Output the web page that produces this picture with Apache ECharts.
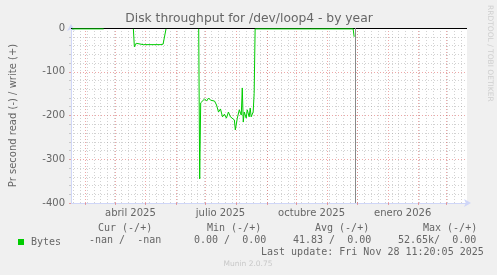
<!DOCTYPE html>
<html><head><meta charset="utf-8">
<script src="https://cdn.jsdelivr.net/npm/echarts@6/dist/echarts.min.js"></script>
<style>html,body{margin:0;padding:0;background:#F0F0F0}#c{width:497px;height:275px}</style>
</head><body><div id="c"></div>
<script>
// ---- data ----
const readDates = [
  '2025-02-16','2025-03-20','2025-04-05',
  '2025-04-19','2025-04-20','2025-04-22','2025-04-24','2025-04-29','2025-05-16','2025-05-19','2025-05-21','2025-05-22','2025-06-05',
  '2025-06-24','2025-06-25','2025-06-26','2025-06-28','2025-06-30','2025-07-02','2025-07-04','2025-07-06','2025-07-08','2025-07-10',
  '2025-07-12','2025-07-14','2025-07-16','2025-07-18','2025-07-20','2025-07-22','2025-07-24','2025-07-26','2025-07-28','2025-07-30',
  '2025-07-31','2025-08-02','2025-08-04','2025-08-06','2025-08-07','2025-08-08','2025-08-09','2025-08-11','2025-08-12','2025-08-14',
  '2025-08-15','2025-08-16','2025-08-18','2025-08-19','2025-08-20',
  '2025-09-15','2025-10-15','2025-11-27','2025-11-28'
];
const readValues = [
  -2,-2,null,
  -2,-43,-35,-37,-38,-38,-37,-34,-2,null,
  -2,-345,-171,-169,-162,-167,-160,-165,-169,-167,
  -176,-192,-185,-203,-197,-206,-192,-203,-199,-210,
  -233,-206,-187,-199,-137,-215,-192,-206,-187,-203,
  -183,-203,-192,-150,-2,
  -2,-2,-2,-20
];
const xStart = '2025-02-15';
const xEnd = '2026-03-22';
const nowDate = '2025-11-29';
const monthStarts = ['2025-03-01','2025-04-01','2025-05-01','2025-06-01','2025-07-01','2025-08-01','2025-09-01',
  '2025-10-01','2025-11-01','2025-12-01','2026-01-01','2026-02-01','2026-03-01'];
const xLabelDates = ['2025-04-16','2025-07-16','2025-10-16','2026-01-16'];
const xLabelTexts = ['abril 2025','julio 2025','octubre 2025','enero 2026'];
const yMin = -400, yMax = 0, yStep = 100;
const titleText = 'Disk throughput for /dev/loop4 - by year';
const yAxisTitle = 'Pr second read (-) / write (+)';
const seriesName = 'Bytes';
const colHeaders = ['Cur (-/+)','Min (-/+)','Avg (-/+)','Max (-/+)'];
const colValues = ['-nan /  -nan','0.00 /  0.00','41.83 /  0.00','52.65k/  0.00'];
const lastUpdate = 'Last update: Fri Nov 28 11:20:05 2025';
const footer = 'Munin 2.0.75';
const sideText = 'RRDTOOL / TOBI OETIKER';

// ---- build ----
const ts = d => new Date(d + 'T00:00:00').getTime();
const seriesData = readDates.map((d, i) => [ts(d), readValues[i]]);
const labelTs = xLabelDates.map(ts);
const weekLines = [];
for (let t = ts('2025-02-17'); t < ts(xEnd); t += 7 * 86400000) weekLines.push(t);

const FONT = 'DejaVu Sans, sans-serif';
const MONO = 'DejaVu Sans Mono, monospace';
const TXT = '#666';
const dotGray = 'rgba(143,143,143,0.4)';
const dotRed = 'rgba(222,79,79,0.5)';

const chart = echarts.init(document.getElementById('c'), null, {renderer: 'canvas'});
const headerX = [98, 207, 315, 423];
const valueX = [89, 194, 293, 398];
const graphics = [
  {type: 'text', x: 249, y: 19, style: {text: titleText, font: '12.3px ' + FONT, fill: TXT, align: 'center', verticalAlign: 'middle'}},
  {type: 'text', x: 490, y: 5, rotation: -Math.PI / 2, style: {text: sideText, font: '7.5px ' + FONT, fill: '#cfcfcf', align: 'left', verticalAlign: 'middle'}},
  {type: 'text', x: 248, y: 264, style: {text: footer, font: '7.5px ' + FONT, fill: '#c8c8c8', align: 'center', verticalAlign: 'middle'}},
  {type: 'text', x: 261, y: 252, style: {text: lastUpdate, font: '10px ' + MONO, fill: TXT, align: 'left', verticalAlign: 'middle'}}
];
colHeaders.forEach((h, i) => graphics.push({type: 'text', x: headerX[i], y: 228, style: {text: h, font: '10px ' + MONO, fill: TXT, align: 'left', verticalAlign: 'middle'}}));
colValues.forEach((v, i) => graphics.push({type: 'text', x: valueX[i], y: 240, style: {text: v, font: '10px ' + MONO, fill: TXT, align: 'left', verticalAlign: 'middle'}}));

chart.setOption({
  animation: false,
  backgroundColor: '#F0F0F0',
  grid: {left: 67, right: 30, top: 28, bottom: 72, show: true, backgroundColor: '#FFFFFF', borderWidth: 0},
  legend: {data: [seriesName], left: 13, top: 232, icon: 'rect', itemWidth: 6, itemHeight: 6,
    textStyle: {fontFamily: MONO, fontSize: 10, color: TXT, padding: [0, 0, 0, 2]}, selectedMode: false},
  xAxis: {
    type: 'value', min: ts(xStart), max: ts(xEnd),
    axisLine: {show: true, lineStyle: {color: '#CFD6F8', width: 1}, symbol: ['none', 'arrow'], symbolSize: [6, 7], symbolOffset: [0, 4], onZero: false},
    axisTick: {show: true, customValues: monthStarts.map(ts), length: 2, lineStyle: {color: dotRed}},
    axisLabel: {customValues: labelTs, margin: 5, fontFamily: FONT, fontSize: 10, color: TXT,
      formatter: v => { const i = labelTs.indexOf(v); return i >= 0 ? xLabelTexts[i] : ''; }},
    splitLine: {show: false}
  },
  yAxis: {
    type: 'value', min: yMin, max: yMax, interval: yStep,
    name: yAxisTitle, nameLocation: 'middle', nameRotate: 90, nameGap: 53,
    nameTextStyle: {fontFamily: FONT, fontSize: 10, color: TXT},
    axisLine: {show: true, lineStyle: {color: '#CFD6F8', width: 1}, symbol: ['none', 'arrow'], symbolSize: [6, 7], symbolOffset: [0, 4], onZero: false},
    axisTick: {show: true, length: 2, lineStyle: {color: dotRed}},
    minorTick: {show: true, splitNumber: 5, length: 2, lineStyle: {color: dotGray}},
    axisLabel: {margin: 6, fontFamily: FONT, fontSize: 10, color: TXT},
    splitLine: {show: true, lineStyle: {color: dotRed, type: [1, 2], width: 1}},
    minorSplitLine: {show: true, lineStyle: {color: dotGray, type: [1, 2], width: 1}}
  },
  series: [
    {type: 'line', name: '_weeks', data: [], silent: true,
      markLine: {silent: true, symbol: 'none', label: {show: false}, animation: false,
        lineStyle: {color: dotGray, type: [1, 2], width: 1},
        data: weekLines.map(t => ({xAxis: t}))}},
    {type: 'line', name: '_months', data: [], silent: true,
      markLine: {silent: true, symbol: 'none', label: {show: false}, animation: false,
        lineStyle: {color: dotRed, type: [1, 2], width: 1},
        data: monthStarts.map(d => ({xAxis: ts(d)}))}},
    {type: 'line', name: seriesName, data: seriesData, showSymbol: false, connectNulls: false,
      lineStyle: {color: '#00CC00', width: 1}, itemStyle: {color: '#00CC00'}, z: 5},
    {type: 'line', name: '_rules', data: [], silent: true, z: 6,
      markLine: {silent: true, symbol: 'none', label: {show: false}, animation: false,
        data: [
          {yAxis: 0, lineStyle: {color: '#000000', type: 'solid', width: 1}},
          {xAxis: ts(nowDate), lineStyle: {color: '#888888', type: 'solid', width: 1}}
        ]}}
  ],
  graphic: graphics
});
</script>
</body></html>
